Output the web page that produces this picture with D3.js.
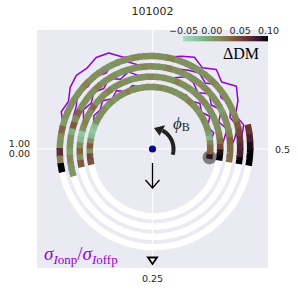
<!DOCTYPE html>
<meta charset="utf-8">
<style>
body { margin: 0; background: #fff; }
text { font-family: "DejaVu Sans", sans-serif; fill: #262626; }
.math { font-family: "Liberation Serif", "DejaVu Serif", serif; }
</style>
<body>
<script src="https://cdn.jsdelivr.net/npm/d3@7"></script>
<script>
var width = 298,
	height = 298,
	pLeft = 37, pRight = 268, pTop = 30, pBottom = 268;

// spiral: r = r0 + (s - s0), s = turn + phase
var r0 = 5.75, s0 = 0.48, lim = 11.55;
var phaseStart = 0.475, binStep = 0.0125;

// delta DM per phase bin, one array per turn
var dm0 = [0.085, 0.035, 0.03, 0.015, -0.015, 0.0, 0.01, 0.01, 0.015, 0.01,
	0.005, 0.01, 0.01, 0.02, 0.01, 0.01, 0.005, 0.01, 0.01, 0.01,
	0.015, 0.01, 0.01, 0.01, 0.005, 0.01, 0.01, 0.02, 0.01, 0.01,
	0.005, 0.01, 0.0, 0.01, 0.01, 0.01, 0.01, -0.02, -0.03, -0.02,
	0.01, 0.04, 0.01, 0.05, 0.045];
var dm1 = [0.1, 0.09, 0.05, 0.03, 0.02, 0.01, 0.01, 0.005, 0.01, 0.01,
	0.01, 0.015, 0.01, 0.01, 0.005, 0.01, 0.01, 0.02, 0.01, 0.01,
	0.01, 0.01, 0.015, 0.01, 0.01, 0.005, 0.01, 0.01, 0.01, 0.01,
	0.02, 0.01, 0.01, 0.005, 0.03, 0.01, 0.01, 0.02, 0.01, -0.03,
	-0.02, 0.01, 0.035, 0.01, 0.04];
var dm2 = [0.03, 0.03, 0.03, 0.035, 0.02, 0.01, 0.01, 0.01, 0.0, 0.01,
	0.01, 0.01, 0.015, 0.01, 0.01, 0.01, 0.005, 0.01, 0.01, 0.02,
	0.01, 0.01, 0.01, 0.015, 0.01, 0.01, 0.01, 0.005, 0.01, 0.01,
	0.01, 0.02, 0.01, 0.01, 0.01, 0.01, 0.035, 0.01, 0.04, -0.01,
	0.01, 0.01, 0.0, 0.02, 0.01, 0.005];
var dm3 = [0.1, 0.075, 0.07, 0.06, 0.05, 0.04, 0.02, 0.01, 0.01, 0.01,
	0.01, 0.01, 0.015, 0.01, 0.01, 0.005, 0.01, 0.01, 0.01, 0.02,
	0.01, 0.01, 0.01, 0.01, 0.015, 0.01, 0.01, 0.01, 0.005, 0.01,
	0.01, 0.01, 0.02, 0.01, 0.01, 0.01, 0.01, 0.01, 0.0, 0.035,
	0.01, 0.01, 0.065, 0.02, 0.1];
var dm4 = [0.1, 0.1, 0.09, 0.075, 0.06];
var dmTurns = [dm0, dm1, dm2, dm3, dm4];

// sigma on/off ratio, drawn as radial offset, phases 0.48..1.04 step 0.02
var sigPhase0 = 0.48, sigStep = 0.02;
var sig0 = [0, 0, 0.1, 0.5, 0.1, 0.7, 0.2, 0.6, 0.1, 0.3, 0, 0, 0, 0, 0, 0, 0.4, 0.1, 0.6, 0.2, 0.7, 0.3, 0.5, 0.1, 0, 0, 0, 0, 0];
var sig1 = [0, 0, 0.4, 0.9, 0.3, 1.0, 0.4, 0.9, 0.2, 0.7, 0.8, 0.3, 0, 0, 0, 0.2, 0.8, 0.4, 1.0, 0.5, 0.9, 0.4, 0.7, 0.2, 0, 0, 0, 0, 0];
var sig2 = [0, 0, 0.5, 1.0, 0.5, 1.1, 0.6, 1.2, 0.4, 0.8, 0.5, 0.2, 0, 0, 0, 0.3, 0.9, 1.1, 0.6, 1.0, 0.7, 1.1, 0.5, 0.3, 0, 0, 0, 0, 0];
var sig3 = [0, 0, 0.2, 0.6, 0.1, 0.9, 1.5, 0.6, 1.1, 0.4, 0.9, 0.5, 0.1, 0, 0, 0.1, 0.3, 1.2, 1.4, 1.1, 1.3, 1.0, 0.4, 0.6, 0, 0, 0, 0, 0];
var sigTurns = [sig0, sig1, sig2, sig3];

var cbTicks = [-0.05, 0.0, 0.05, 0.10];
var leftLabels = ["1.00", "0.00"];
var rightLabel = "0.5", bottomLabel = "0.25";

var cmapDomain = [-0.05, -0.025, 0.0, 0.02, 0.04, 0.06, 0.08, 0.10];
var cmapRange = ["#a5dcc5", "#88c29e", "#7c9f6c", "#868052", "#7f5a3e", "#6b3538", "#3e1a2c", "#000000"];
var cmap = d3.scaleLinear().domain(cmapDomain).range(cmapRange).clamp(true);

var x = d3.scaleLinear().domain([-lim, lim]).range([pLeft, pRight]);
var y = d3.scaleLinear().domain([-lim, lim]).range([pBottom, pTop]);

function spiralPt(s, dr) {
	var r = r0 + (s - s0) + (dr || 0),
		th = Math.PI + 2 * Math.PI * s;
	return [x(r * Math.cos(th)), y(r * Math.sin(th))];
}

function spiralPath(sa, sb) {
	var n = Math.max(2, Math.ceil((sb - sa) / 0.004)), pts = [];
	for (var k = 0; k <= n; k++) pts.push(spiralPt(sa + (sb - sa) * k / n));
	return d3.line()(pts);
}

var svg = d3.select("body").append("svg")
	.attr("width", width)
	.attr("height", height);

svg.append("rect")
	.attr("x", pLeft).attr("y", pTop)
	.attr("width", pRight - pLeft).attr("height", pBottom - pTop)
	.style("fill", "#eaeaf2");

svg.append("line")
	.attr("x1", pLeft).attr("x2", pRight)
	.attr("y1", y(0)).attr("y2", y(0))
	.style("stroke", "#fff").style("stroke-width", 1.2);
svg.append("line")
	.attr("x1", x(0)).attr("x2", x(0))
	.attr("y1", pTop).attr("y2", pBottom)
	.style("stroke", "#fff").style("stroke-width", 1.2);

// purple sigma lines (under the rings)
var purple = svg.append("g");
sigTurns.forEach(function(arr, t) {
	var pts = arr.map(function(v, j) { return spiralPt(t + sigPhase0 + j * sigStep, v); });
	purple.append("path")
		.attr("d", d3.line()(pts))
		.style("fill", "none")
		.style("stroke", "#9400d3")
		.style("stroke-width", 1.5)
		.style("stroke-linejoin", "round");
});

// start marker
var start = spiralPt(phaseStart + 0.005);
svg.append("circle")
	.attr("cx", start[0]).attr("cy", start[1] + 1)
	.attr("r", 7)
	.style("fill", "#808080");

var rings = svg.append("g");
// white parts between coloured parts
dmTurns.forEach(function(arr, t) {
	if (t == dmTurns.length - 1) return;
	var sa = t + phaseStart + arr.length * binStep,
		sb = t + 1 + phaseStart;
	rings.append("path")
		.attr("d", spiralPath(sa - 0.002, sb + 0.002))
		.style("fill", "none")
		.style("stroke", "#fff")
		.style("stroke-width", 6.5);
});
dmTurns.forEach(function(arr, t) {
	arr.forEach(function(v, i) {
		var sa = t + phaseStart + i * binStep;
		rings.append("path")
			.attr("d", spiralPath(sa - 0.0015, sa + binStep + 0.0015))
			.style("fill", "none")
			.style("stroke", cmap(v))
			.style("stroke-width", 6.5);
	});
});

// centre dot
svg.append("circle")
	.attr("cx", x(0)).attr("cy", y(0)).attr("r", 3.6)
	.style("fill", "#08088c");

// down arrow
svg.append("line")
	.attr("x1", x(0)).attr("x2", x(0))
	.attr("y1", y(0) + 14).attr("y2", y(0) + 39)
	.style("stroke", "#000").style("stroke-width", 1.3);
svg.append("path")
	.attr("d", "M" + (x(0) - 7) + "," + (y(0) + 31) + "L" + x(0) + "," + (y(0) + 39) + "L" + (x(0) + 7) + "," + (y(0) + 31))
	.style("fill", "none").style("stroke", "#000").style("stroke-width", 1.3);

// curved phase arrow
var ar = 21, a0 = -16 * Math.PI / 180, a1 = 62 * Math.PI / 180, aTip = 86 * Math.PI / 180;
var arcPts = d3.range(0, 21).map(function(k) {
	var a = a0 + (a1 - a0) * k / 20;
	return [x(0) + ar * Math.cos(a), y(0) - ar * Math.sin(a)];
});
svg.append("path")
	.attr("d", d3.line()(arcPts))
	.style("fill", "none").style("stroke", "#222").style("stroke-width", 4);
var hb1 = [x(0) + (ar - 6) * Math.cos(a1), y(0) - (ar - 6) * Math.sin(a1)],
	hb2 = [x(0) + (ar + 6) * Math.cos(a1), y(0) - (ar + 6) * Math.sin(a1)],
	tip = [x(0) + ar * Math.cos(aTip), y(0) - ar * Math.sin(aTip)];
svg.append("path")
	.attr("d", "M" + hb1 + "L" + tip + "L" + hb2 + "Z")
	.style("fill", "#222");

// bottom marker
svg.append("path")
	.attr("d", "M" + (x(0) - 4.5) + ",257.5L" + (x(0) + 4.5) + ",257.5L" + x(0) + ",264Z")
	.style("fill", "#fff").style("stroke", "#000").style("stroke-width", 1.8);

// colorbar
var cbx = d3.scaleLinear().domain([cbTicks[0], cbTicks[cbTicks.length - 1]]).range([183, 268]);
var grad = svg.append("defs").append("linearGradient").attr("id", "cb");
d3.range(0, 31).forEach(function(k) {
	var v = -0.05 + 0.15 * k / 30;
	grad.append("stop").attr("offset", (k / 30 * 100) + "%").attr("stop-color", cmap(v));
});
svg.append("rect")
	.attr("x", 183).attr("y", 36).attr("width", 85).attr("height", 5.3)
	.style("fill", "url(#cb)");
var cbAxis = svg.append("g")
	.attr("transform", "translate(0,36)")
	.call(d3.axisTop(cbx).tickValues(cbTicks).tickFormat(d3.format(".2f")).tickSize(0).tickPadding(2));
cbAxis.select(".domain").remove();
cbAxis.selectAll("text").style("font-size", "9.5px").style("font-family", "DejaVu Sans");

svg.append("text").attr("class", "math")
	.attr("x", 259).attr("y", 59)
	.attr("text-anchor", "end")
	.style("font-size", "16px").style("fill", "#000")
	.text("ΔDM");

// phi_B label
var phi = svg.append("text").attr("class", "math")
	.attr("x", 173).attr("y", 129)
	.style("font-size", "17px").style("fill", "#262626");
phi.append("tspan").style("font-style", "italic").text("ϕ");
phi.append("tspan").attr("dy", 2).style("font-size", "12px").text("B");

// sigma label
var sg = svg.append("text").attr("class", "math")
	.attr("x", 44).attr("y", 260)
	.style("fill", "#9400d3").style("font-size", "19px");
sg.append("tspan").style("font-style", "italic").text("σ");
sg.append("tspan").attr("dy", 4).style("font-size", "13px").style("font-style", "italic").text("I");
sg.append("tspan").style("font-size", "13px").text("onp");
sg.append("tspan").attr("dy", -4).text("/");
sg.append("tspan").style("font-style", "italic").text("σ");
sg.append("tspan").attr("dy", 4).style("font-size", "13px").style("font-style", "italic").text("I");
sg.append("tspan").style("font-size", "13px").text("offp");

// tick labels
svg.append("text")
	.attr("x", x(0)).attr("y", 282)
	.attr("text-anchor", "middle")
	.style("font-size", "9.5px")
	.text(bottomLabel);
svg.selectAll(".ll").data(leftLabels).enter().append("text")
	.attr("x", 30).attr("y", function(d, i) { return y(0) - 2 + i * 10; })
	.attr("text-anchor", "end")
	.style("font-size", "9.5px")
	.text(function(d) { return d; });
svg.append("text")
	.attr("x", 275).attr("y", y(0) + 3.5)
	.style("font-size", "9.5px")
	.text(rightLabel);

svg.append("text")
	.attr("x", 152.5).attr("y", 15)
	.attr("text-anchor", "middle")
	.style("font-size", "11px")
	.text("101002");
</script>
</body>
